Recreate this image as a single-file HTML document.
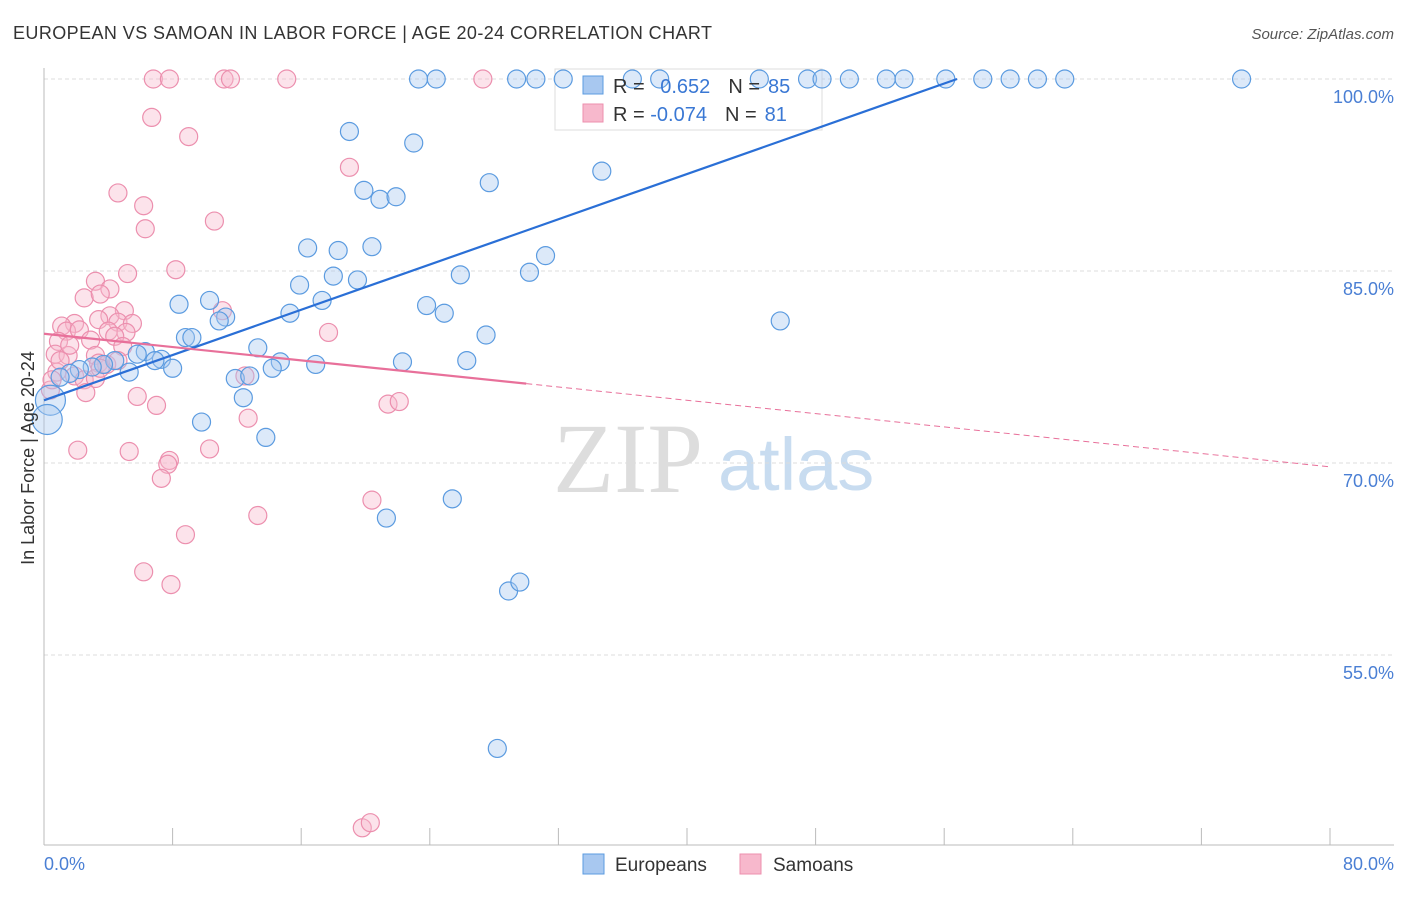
<!DOCTYPE html>
<html><head><meta charset="utf-8"><style>
body{margin:0;background:#fff;font-family:"Liberation Sans",sans-serif;}
</style></head><body>
<svg width="1406" height="892" xmlns="http://www.w3.org/2000/svg">
<text x="13" y="39" font-size="18" fill="#333" textLength="699">EUROPEAN VS SAMOAN IN LABOR FORCE | AGE 20-24 CORRELATION CHART</text>
<text x="1394" y="39" font-size="15" fill="#555" font-style="italic" text-anchor="end">Source: ZipAtlas.com</text>
<text x="553" y="492" font-size="100" fill="#ddd" font-family="Liberation Serif,serif">ZIP</text>
<text x="718" y="490" font-size="74" fill="#c8dcf0">atlas</text>
<g id="grid"></g><g id="axes"></g>
<g>
<rect x="555" y="69" width="267" height="61" fill="#fff" stroke="#ddd"/>
</g>
<g id="marks"></g>
<g>
<rect x="583" y="76" width="20" height="18" fill="#a8c8f0" stroke="#5b9be0"/>
<rect x="583" y="104" width="20" height="18" fill="#f7b8cc" stroke="#ec8fae"/>
<text x="613" y="93" font-size="20" fill="#333">R = <tspan fill="#3a78d4" dx="10">0.652</tspan><tspan dx="18">N =</tspan><tspan fill="#3a78d4" dx="8">85</tspan></text>
<text x="613" y="121" font-size="20" fill="#333">R = <tspan fill="#3a78d4" dx="0">-0.074</tspan><tspan dx="18">N =</tspan><tspan fill="#3a78d4" dx="8">81</tspan></text>
</g>
<text transform="translate(34,458) rotate(-90)" font-size="18" fill="#333" text-anchor="middle">In Labor Force | Age 20-24</text>
<text x="44" y="870" font-size="18" fill="#4a7fd4">0.0%</text>
<text x="1394" y="870" font-size="18" fill="#4a7fd4" text-anchor="end">80.0%</text>
<g><rect x="583" y="854" width="21" height="20" fill="#a8c8f0" stroke="#5b9be0"/><text x="615" y="871" font-size="19" fill="#333">Europeans</text></g>
<g><rect x="740" y="854" width="21" height="20" fill="#f7b8cc" stroke="#ec8fae"/><text x="773" y="871" font-size="19" fill="#333">Samoans</text></g>
</svg>
<script>
const yTicks=[55,70,85,100];
const xTickVals=[0,8,16,24,32,40,48,56,64,72,80];
const euroX=[23.3,24.4,29.4,30.6,32.3,36.6,38.3,44.5,47.5,48.4,50.1,52.4,53.5,56.1,58.4,60.1,61.8,63.5,74.5,19.0,23.0,34.7,19.9,20.9,21.9,27.7,16.4,18.3,20.4,31.2,25.9,30.2,18.0,19.5,15.9,17.3,10.3,8.4,23.8,24.9,15.3,11.3,10.9,45.8,27.5,8.8,9.2,13.3,6.3,5.8,7.3,6.9,8.0,14.7,14.2,16.9,22.3,26.3,4.4,3.7,3.0,2.2,1.6,5.3,1.0,11.9,12.8,12.4,9.8,13.8,0.4,0.2,21.3,25.4,28.9,29.6,28.2];
const euroY=[100,100,100,100,100,100,100,100,100,100,100,100,100,100,100,100,100,100,100,95.9,95.0,92.8,91.3,90.6,90.8,91.9,86.8,86.6,86.9,86.2,84.7,84.9,84.6,84.3,83.9,82.7,82.7,82.4,82.3,81.7,81.7,81.4,81.1,81.1,80.0,79.8,79.8,79.0,78.7,78.5,78.1,78.0,77.4,77.9,77.4,77.7,77.9,78.0,78.0,77.7,77.5,77.3,77.0,77.1,76.7,76.6,76.8,75.1,73.2,72.0,74.9,73.4,65.7,67.2,60.0,60.7,47.7];
const samX=[6.8,7.8,11.2,11.6,15.1,27.3,6.7,9.0,19.0,4.6,6.2,10.6,6.3,8.2,5.2,3.2,4.1,2.5,3.5,5.0,4.1,1.9,4.6,5.5,3.4,1.1,1.4,2.2,4.0,5.1,4.4,11.1,17.7,0.9,2.9,4.9,0.7,1.5,3.2,3.4,3.9,0.8,1.9,2.5,3.2,0.4,2.6,5.8,7.0,12.7,21.4,22.1,2.1,5.3,7.8,7.7,10.3,12.5,7.3,20.4,13.3,8.8,6.2,7.9,19.8,20.3,0.5,1.0,1.6,3.5,4.6];
const samY=[100,100,100,100,100,100,97.0,95.5,93.1,91.1,90.1,88.9,88.3,85.1,84.8,84.2,83.6,82.9,83.2,81.9,81.5,80.9,81.0,80.9,81.2,80.7,80.3,80.4,80.3,80.2,79.9,81.9,80.2,79.5,79.6,79.1,78.5,78.4,78.4,77.8,77.7,77.1,76.8,76.5,76.6,75.7,75.5,75.2,74.5,73.5,74.6,74.8,71.0,70.9,70.2,69.9,71.1,76.8,68.8,67.1,65.9,64.4,61.5,60.5,41.5,41.9,76.5,78.0,79.2,77.4,78.0];
const euroTrend=[[0,74.9],[56.8,100]];
const samTrend=[[0,80.1],[30,76.2],[80,69.7]];
const NS="http://www.w3.org/2000/svg";
const sx=v=>44+v*16.075, sy=v=>79+(100-v)*12.8;
function mk(t,a,p){const e=document.createElementNS(NS,t);for(const k in a)e.setAttribute(k,a[k]);p.appendChild(e);return e;}
const grid=document.getElementById('grid'),axes=document.getElementById('axes'),marks=document.getElementById('marks');
yTicks.forEach(v=>{
 const l=mk('line',{x1:44,x2:1394,y1:sy(v),y2:sy(v),stroke:'#ddd','stroke-dasharray':'4,3'},grid);
 
 
 const t=mk('text',{x:1394,y:sy(v)+24,'font-size':18,fill:'#4a7fd4','text-anchor':'end'},grid);
 t.textContent=v.toFixed(1)+'%';
 
 
});
const ax=mk('line',{x1:44,x2:44,y1:68,y2:845,stroke:'#bbb'},axes);


const bx=mk('line',{x1:44,x2:1394,y1:845,y2:845,stroke:'#bbb'},axes);


xTickVals.forEach(v=>{
 const t=mk('line',{x1:sx(v),x2:sx(v),y1:828,y2:845,stroke:'#bbb'},axes);
 
 
});
function pts(X,Y,fill,stroke,name){
 X.forEach((x,i)=>{
  const big=(x<0.5&&name==='europeans-point');
  const c=mk('circle',{cx:sx(x),cy:sy(Y[i]),r:big?15:9,fill:fill,'fill-opacity':0.4,stroke:stroke,'stroke-width':1.2},marks);
  
  
 });
}
pts(samX,samY,'#f7b8cc','#ec8fae','samoans-point');
pts(euroX,euroY,'#a8c8f0','#5b9be0','europeans-point');
const bl=mk('line',{x1:sx(euroTrend[0][0]),y1:sy(euroTrend[0][1]),x2:sx(euroTrend[1][0]),y2:sy(euroTrend[1][1]),stroke:'#2a6fd6','stroke-width':2.2},marks);


const pl=mk('line',{x1:sx(samTrend[0][0]),y1:sy(samTrend[0][1]),x2:sx(samTrend[1][0]),y2:sy(samTrend[1][1]),stroke:'#e8709a','stroke-width':2.2},marks);


const pd=mk('line',{x1:sx(samTrend[1][0]),y1:sy(samTrend[1][1]),x2:sx(samTrend[2][0]),y2:sy(samTrend[2][1]),stroke:'#e8709a','stroke-width':1,'stroke-dasharray':'6,4'},marks);


</script>
</body></html>
